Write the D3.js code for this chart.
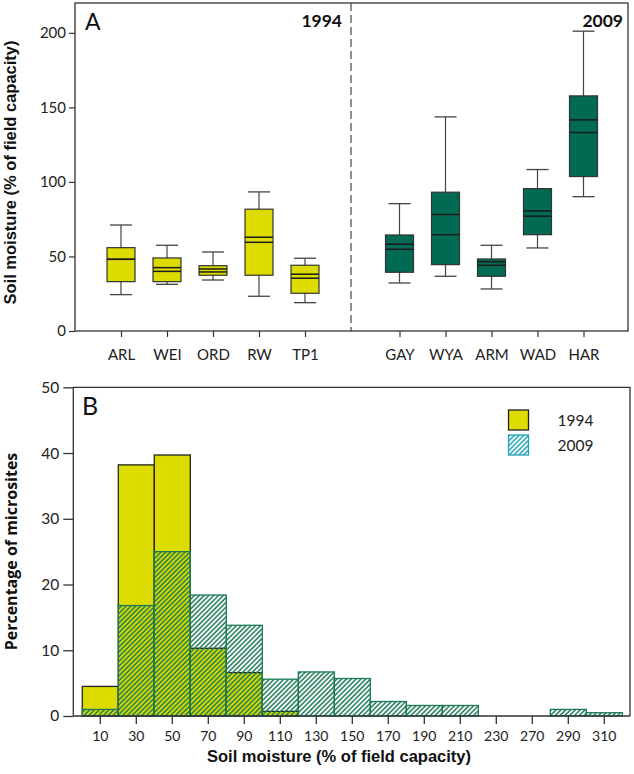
<!DOCTYPE html>
<html>
<head>
<meta charset="utf-8">
<script src="https://cdn.jsdelivr.net/npm/d3@7"></script>
<style>
  html, body { margin: 0; padding: 0; background: #fff; }
  svg { display: block; }
</style>
</head>
<body>
<div id="chart"></div>
<script>
// ---------- Panel A data (box plots) ----------
const sites1994 = ["ARL", "WEI", "ORD", "RW", "TP1"];
const sites2009 = ["GAY", "WYA", "ARM", "WAD", "HAR"];
// whisker low, Q1, centre line 1, centre line 2, Q3, whisker high
const low1994  = [24.4, 31.3, 34.2, 23.3, 19.0];
const q1_1994  = [33.1, 33.1, 37.4, 37.4, 25.3];
const medA1994 = [48.1, 40.0, 39.6, 59.5, 35.4];
const medB1994 = [48.1, 42.5, 41.6, 62.9, 38.1];
const q3_1994  = [55.9, 49.0, 43.8, 81.7, 44.1];
const high1994 = [71.1, 57.5, 53.0, 93.3, 48.8];

const low2009  = [32.2, 36.7, 28.2, 55.7, 90.1];
const q1_2009  = [39.4, 44.5, 36.7, 64.6, 103.6];
const medA2009 = [54.8, 64.6, 44.1, 77.0, 133.1];
const medB2009 = [58.2, 78.1, 46.5, 80.5, 141.6];
const q3_2009  = [64.4, 93.1, 48.3, 95.5, 157.7];
const high2009 = [85.4, 143.6, 57.5, 108.3, 201.1];

const yTicksA = [0, 50, 100, 150, 200];

// ---------- Panel B data (histogram) ----------
const bins = ["10","30","50","70","90","110","130","150","170","190","210","230","270","290","310"];
const pct1994 = [4.5, 38.2, 39.7, 10.3, 6.6, 0.7, 0, 0, 0, 0, 0, 0, 0, 0, 0];
const pct2009 = [1.0, 16.8, 25.0, 18.4, 13.8, 5.6, 6.7, 5.7, 2.2, 1.6, 1.6, 0, 0, 1.0, 0.5];
const yTicksB = [0, 10, 20, 30, 40, 50];

const yellow = "#dcdc00";
const boxGreen = "#006b52";
const hatchGreen = "#1d7a55";
const legendCyan = "#22a2b6";
const axisCol = "#333";
const tickFont = "Lato, 'Open Sans', sans-serif";
const titleFont = "'Liberation Sans', Arial, sans-serif";

const W = 634, H = 774;
const svg = d3.select("#chart").append("svg").attr("width", W).attr("height", H);

const defs = svg.append("defs");
function hatch(id, color) {
  const p = defs.append("pattern").attr("id", id)
    .attr("patternUnits", "userSpaceOnUse")
    .attr("width", 3.4).attr("height", 3.4)
    .attr("patternTransform", "rotate(45)");
  p.append("line").attr("x1", 1).attr("y1", 0).attr("x2", 1).attr("y2", 3.4)
    .attr("stroke", color).attr("stroke-width", 1.5);
}
hatch("hatchG", hatchGreen);
hatch("hatchC", legendCyan);

// ================= PANEL A =================
const A = { left: 75, right: 628, top: 3, bottom: 331, split: 351 };
const yA = d3.scaleLinear().domain([0, 220]).range([A.bottom, A.top]);
const xA1 = d3.scalePoint().domain(sites1994).range([A.left, A.split]).padding(1);
const xA2 = d3.scalePoint().domain(sites2009).range([A.split + 2.5, A.right + 1.5]).padding(1);

const gA = svg.append("g");

// frame
gA.append("rect").attr("x", A.left).attr("y", A.top)
  .attr("width", A.right - A.left).attr("height", A.bottom - A.top)
  .attr("fill", "none").attr("stroke", axisCol).attr("stroke-width", 1.3);
// dashed divider
gA.append("line").attr("x1", A.split).attr("x2", A.split)
  .attr("y1", A.top).attr("y2", A.bottom)
  .attr("stroke", "#333").attr("stroke-width", 1.1).attr("stroke-dasharray", "8,4");

// y axis
const yAxisA = d3.axisLeft(yA).tickValues(yTicksA).tickSize(6).tickPadding(3);
const gyA = gA.append("g").attr("transform", `translate(${A.left},0)`).call(yAxisA);
gyA.select(".domain").remove();
gyA.selectAll(".tick line").attr("stroke", axisCol).attr("stroke-width", 1.2);
gyA.selectAll(".tick text").attr("font-family", tickFont).attr("font-size", 15).attr("fill", "#222");

// x axes
function catAxis(scale) {
  const ax = d3.axisBottom(scale).tickSize(6).tickPadding(12);
  const g = gA.append("g").attr("transform", `translate(0,${A.bottom})`).call(ax);
  g.select(".domain").remove();
  g.selectAll(".tick line").attr("stroke", axisCol).attr("stroke-width", 1.2);
  g.selectAll(".tick text").attr("font-family", tickFont).attr("font-size", 15).attr("fill", "#222");
}
catAxis(xA1);
catAxis(xA2);

function boxes(sites, xs, low, q1, mA, mB, q3, high, fill) {
  const boxW = 28, capW = 22;
  const d = sites.map((s, i) => ({ s, low: low[i], q1: q1[i], mA: mA[i], mB: mB[i], q3: q3[i], high: high[i] }));
  const g = gA.append("g").selectAll("g").data(d).join("g")
    .attr("transform", v => `translate(${xs(v.s)},0)`);
  g.append("line").attr("x1", 0).attr("x2", 0).attr("y1", v => yA(v.high)).attr("y2", v => yA(v.low))
    .attr("stroke", "#444").attr("stroke-width", 1.2);
  g.append("line").attr("x1", -capW / 2).attr("x2", capW / 2).attr("y1", v => yA(v.high)).attr("y2", v => yA(v.high))
    .attr("stroke", "#444").attr("stroke-width", 1.3);
  g.append("line").attr("x1", -capW / 2).attr("x2", capW / 2).attr("y1", v => yA(v.low)).attr("y2", v => yA(v.low))
    .attr("stroke", "#444").attr("stroke-width", 1.3);
  g.append("rect").attr("x", -boxW / 2).attr("width", boxW)
    .attr("y", v => yA(v.q3)).attr("height", v => yA(v.q1) - yA(v.q3))
    .attr("fill", fill).attr("stroke", "#333").attr("stroke-width", 1.2);
  g.append("line").attr("x1", -boxW / 2).attr("x2", boxW / 2).attr("y1", v => yA(v.mA)).attr("y2", v => yA(v.mA))
    .attr("stroke", "#1a1a1a").attr("stroke-width", 1.5);
  g.append("line").attr("x1", -boxW / 2).attr("x2", boxW / 2).attr("y1", v => yA(v.mB)).attr("y2", v => yA(v.mB))
    .attr("stroke", "#1a1a1a").attr("stroke-width", 1.5);
}
boxes(sites1994, xA1, low1994, q1_1994, medA1994, medB1994, q3_1994, high1994, yellow);
boxes(sites2009, xA2, low2009, q1_2009, medA2009, medB2009, q3_2009, high2009, boxGreen);

gA.append("text").attr("x", 85).attr("y", 30).text("A")
  .attr("font-family", tickFont).attr("font-size", 23).attr("fill", "#111");
gA.append("text").attr("x", 342).attr("y", 27).attr("text-anchor", "end").text("1994")
  .attr("font-family", tickFont).attr("font-weight", "bold").attr("font-size", 17.5).attr("fill", "#111");
gA.append("text").attr("x", 623).attr("y", 27).attr("text-anchor", "end").text("2009")
  .attr("font-family", tickFont).attr("font-weight", "bold").attr("font-size", 17.5).attr("fill", "#111");
gA.append("text").attr("transform", `translate(16,172.5) rotate(-90)`).attr("text-anchor", "middle")
  .text("Soil moisture (% of field capacity)")
  .attr("font-family", titleFont).attr("font-weight", "bold").attr("font-size", 16.5).attr("fill", "#111");

// ================= PANEL B =================
const B = { left: 73.3, right: 630, top: 387.3, bottom: 716 };
const yB = d3.scaleLinear().domain([0, 50]).range([B.bottom, B.top]);
const xB = d3.scaleBand().domain(bins).range([82.3, 622.3]).padding(0);
const gB = svg.append("g");

// yellow 1994 bars
gB.append("g").selectAll("rect").data(bins.map((b, i) => ({ b, v: pct1994[i] })).filter(d => d.v > 0))
  .join("rect")
  .attr("x", d => xB(d.b)).attr("width", xB.bandwidth())
  .attr("y", d => yB(d.v)).attr("height", d => yB(0) - yB(d.v))
  .attr("fill", yellow).attr("stroke", "#222").attr("stroke-width", 1.3);

// hatched 2009 bars
gB.append("g").selectAll("rect").data(bins.map((b, i) => ({ b, v: pct2009[i] })).filter(d => d.v > 0))
  .join("rect")
  .attr("x", d => xB(d.b)).attr("width", xB.bandwidth())
  .attr("y", d => yB(d.v)).attr("height", d => yB(0) - yB(d.v))
  .attr("fill", "url(#hatchG)").attr("stroke", hatchGreen).attr("stroke-width", 1.3);

// frame (top/right/left)
gB.append("path")
  .attr("d", `M${B.left},${B.bottom} L${B.left},${B.top} L${B.right},${B.top} L${B.right},${B.bottom}`)
  .attr("fill", "none").attr("stroke", axisCol).attr("stroke-width", 1.3);

// y axis
const gyB = gB.append("g").attr("transform", `translate(${B.left},0)`)
  .call(d3.axisLeft(yB).tickValues(yTicksB).tickSize(10).tickPadding(4));
gyB.select(".domain").remove();
gyB.selectAll(".tick line").attr("stroke", axisCol).attr("stroke-width", 1.3);
gyB.selectAll(".tick text").attr("font-family", tickFont).attr("font-size", 15.5).attr("fill", "#222");

// x axis
const gxB = gB.append("g").attr("transform", `translate(0,${B.bottom})`)
  .call(d3.axisBottom(xB).tickSize(8).tickPadding(7));
gxB.select(".domain").remove();
gxB.selectAll(".tick line").attr("stroke", axisCol).attr("stroke-width", 1.3);
gxB.selectAll(".tick text").attr("font-family", tickFont).attr("font-size", 14).attr("fill", "#222");
gB.append("line").attr("x1", B.left).attr("x2", B.right).attr("y1", B.bottom).attr("y2", B.bottom)
  .attr("stroke", axisCol).attr("stroke-width", 1.3);

gB.append("text").attr("x", 82).attr("y", 415).text("B")
  .attr("font-family", tickFont).attr("font-size", 25).attr("fill", "#111");

gB.append("text").attr("transform", `translate(17,551.5) rotate(-90)`).attr("text-anchor", "middle")
  .text("Percentage of microsites")
  .attr("font-family", "'Open Sans', Lato, sans-serif").attr("font-weight", "bold").attr("font-size", 16).attr("fill", "#111");
gB.append("text").attr("x", 339).attr("y", 761.5).attr("text-anchor", "middle")
  .text("Soil moisture (% of field capacity)")
  .attr("font-family", titleFont).attr("font-weight", "bold").attr("font-size", 16.5).attr("fill", "#111");

// legend
const legendItems = [
  { label: "1994", fill: yellow, stroke: "#222" },
  { label: "2009", fill: "url(#hatchC)", stroke: legendCyan }
];
const lg = gB.append("g").selectAll("g").data(legendItems).join("g")
  .attr("transform", (d, i) => `translate(508.5,${410 + i * 25})`);
lg.append("rect").attr("width", 20).attr("height", 20)
  .attr("fill", d => d.fill).attr("stroke", d => d.stroke).attr("stroke-width", 1.3);
lg.append("text").attr("x", 49).attr("y", 15.5).text(d => d.label)
  .attr("font-family", tickFont).attr("font-size", 15.5).attr("fill", "#222");
</script>
</body>
</html>
